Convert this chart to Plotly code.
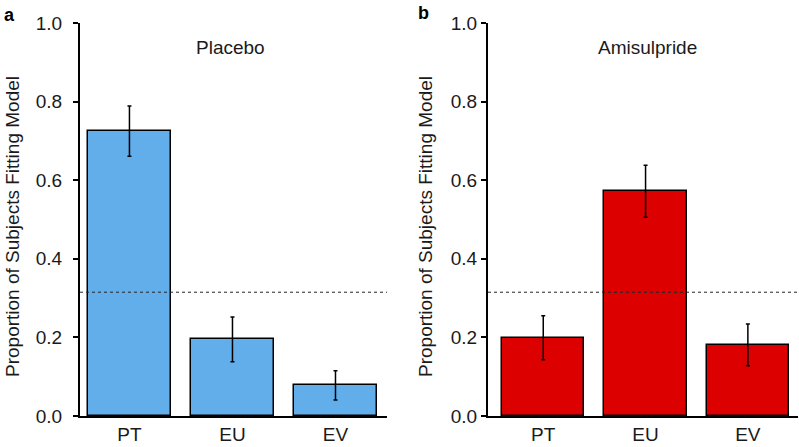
import plotly.graph_objects as go

categories = ["PT", "EU", "EV"]
placebo_values = [0.725, 0.195, 0.078]
placebo_errors = [0.064, 0.057, 0.037]
amisulpride_values = [0.199, 0.572, 0.181]
amisulpride_errors = [0.056, 0.066, 0.053]
chance_level = 0.315
y_ticks = [0.0, 0.2, 0.4, 0.6, 0.8, 1.0]
y_tick_labels = ["0.0", "0.2", "0.4", "0.6", "0.8", "1.0"]
panel_titles = ["Placebo", "Amisulpride"]
panel_letters = ["a", "b"]
y_title = "Proportion of Subjects Fitting Model"

W, H = 799, 447
FONT = "Arial, Liberation Sans, Helvetica, sans-serif"
FS = 19

fig = go.Figure()

def bar_trace(vals, errs, color, xa, ya):
    return go.Bar(
        x=categories, y=vals, width=0.805,
        marker=dict(color=color, line=dict(color="black", width=1.5)),
        error_y=dict(type="data", array=errs, visible=True, color="black",
                     thickness=1.5, width=2),
        xaxis=xa, yaxis=ya, showlegend=False,
    )

fig.add_trace(bar_trace(placebo_values, placebo_errors, "#62AEEB", "x", "y"))
fig.add_trace(bar_trace(amisulpride_values, amisulpride_errors, "#DC0000", "x2", "y2"))

ydom = [(H - 416) / H, (H - 23) / H]
xdom1 = [80 / W, 387 / W]
xdom2 = [488 / W, 798 / W]

common_x = dict(showline=True, linecolor="black", linewidth=2, ticks="",
                showgrid=False, zeroline=False, fixedrange=True,
                tickfont=dict(family=FONT, size=FS, color="#1a1a1a"))
common_y = dict(range=[0, 1], tickvals=y_ticks, ticktext=y_tick_labels,
                showline=True, linecolor="black", linewidth=2,
                ticks="outside", ticklen=5, tickwidth=1.5, tickcolor="black",
                showgrid=False, zeroline=False, automargin=False,
                tickfont=dict(family=FONT, size=FS, color="#1a1a1a"))

fig.update_layout(
    width=W, height=H,
    margin=dict(l=0, r=0, t=0, b=0),
    paper_bgcolor="white", plot_bgcolor="white",
    xaxis=dict(domain=xdom1, range=[-0.48, 2.5], anchor="y", **common_x),
    yaxis=dict(domain=ydom, anchor="x", ticklabelstandoff=7, **common_y),
    xaxis2=dict(domain=xdom2, range=[-0.54, 2.49], anchor="y2", **common_x),
    yaxis2=dict(domain=ydom, anchor="x2", ticklabelstandoff=0, **common_y),
    bargap=0,
)

# chance-level dotted lines
for xr, yr in [("x domain", "y"), ("x2 domain", "y2")]:
    fig.add_shape(type="line", xref=xr, yref=yr, x0=0.0, x1=1.0,
                  y0=chance_level, y1=chance_level,
                  line=dict(color="#222222", width=1, dash="dot"), layer="above")

# panel titles
for title, xc in zip(panel_titles, [230 / W, 647 / W]):
    fig.add_annotation(text=title, x=xc, y=(H - 48) / H, xref="paper", yref="paper",
                       showarrow=False, xanchor="center", yanchor="middle",
                       font=dict(family=FONT, size=FS, color="#1a1a1a"))

# y titles
for xc in [12 / W, 425 / W]:
    fig.add_annotation(text=y_title, x=xc, y=(H - 227) / H, xref="paper", yref="paper",
                       showarrow=False, textangle=-90, xanchor="center", yanchor="middle",
                       font=dict(family=FONT, size=FS, color="#1a1a1a"))

# panel letters
for letter, xl, yt in zip(panel_letters, [2 / W, 416 / W], [(H - 3) / H, (H - 1) / H]):
    fig.add_annotation(text="<b>" + letter + "</b>", x=xl, y=yt,
                       xref="paper", yref="paper", showarrow=False,
                       xanchor="left", yanchor="top",
                       font=dict(family=FONT, size=18, color="black"))

fig.write_html(
    "out.html",
    config={"displayModeBar": False},
    post_script="document.body.style.margin='0px';document.body.style.padding='0px';",
)
